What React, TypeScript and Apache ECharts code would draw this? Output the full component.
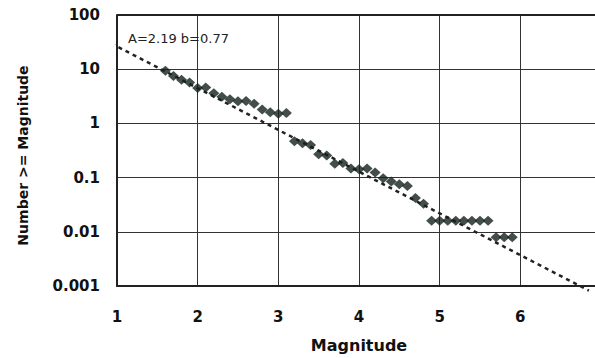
import React, { useEffect, useRef } from "react";
import * as echarts from "echarts";

const magnitudes = [
  1.6, 1.7, 1.8, 1.9, 2.0, 2.1, 2.2, 2.3, 2.4, 2.5, 2.6, 2.7, 2.8, 2.9, 3.0, 3.1,
  3.2, 3.3, 3.4, 3.5, 3.6, 3.7, 3.8, 3.9, 4.0, 4.1, 4.2, 4.3, 4.4, 4.5, 4.6, 4.7, 4.8,
  4.9, 5.0, 5.1, 5.2, 5.3, 5.4, 5.5, 5.6, 5.7, 5.8, 5.9,
];
const cumulativeNumbers = [
  9.4, 7.5, 6.4, 5.7, 4.5, 4.6, 3.6, 3.1, 2.8, 2.55, 2.6, 2.3, 1.8, 1.6, 1.5, 1.55,
  0.47, 0.43, 0.4, 0.27, 0.255, 0.18, 0.185, 0.147, 0.143, 0.147, 0.124, 0.097, 0.085, 0.075, 0.07, 0.042, 0.033,
  0.016, 0.016, 0.016, 0.016, 0.016, 0.016, 0.016, 0.016, 0.0079, 0.0079, 0.0079,
];
const fitA = 2.19;
const fitB = 0.77;
const fitRange = [0.93, 6.85];
const xTickLabels: Record<string, string> = { "1": "1", "2": "2", "3": "3", "4": "4", "5": "5", "6": "6", "7": "" };
const yTickLabels: Record<string, string> = {
  "100": "100",
  "10": "10",
  "1": "1",
  "0.1": "0.1",
  "0.01": "0.01",
  "0.001": "0.001",
};
const annotation = "A=2.19 b=0.77";

export default function App() {
  const ref = useRef<HTMLDivElement>(null);
  useEffect(() => {
    if (!ref.current) return;
    const chart = echarts.init(ref.current, null, { renderer: "svg" });
    const fitData = fitRange.map((m) => [m, Math.pow(10, fitA - fitB * m)]);
    const scatterData = magnitudes.map((m, i) => [m, cumulativeNumbers[i]]);
    chart.setOption({
      animation: false,
      backgroundColor: "#ffffff",
      grid: { left: 117, top: 15, width: 484, height: 277, containLabel: false },
      xAxis: {
        type: "value",
        min: 1,
        max: 7,
        interval: 1,
        name: "Magnitude",
        nameLocation: "middle",
        nameGap: 51,
        nameTextStyle: {
          fontFamily: "DejaVu Sans",
          fontWeight: "bold",
          fontSize: 16,
          color: "#111",
        },
        axisLine: { show: true, onZero: false, lineStyle: { color: "#222", width: 2 } },
        axisTick: { show: false },
        axisLabel: {
          fontFamily: "DejaVu Sans",
          fontWeight: "bold",
          fontSize: 15,
          color: "#111",
          margin: 23,
          formatter: (v: number) => xTickLabels[String(v)] ?? String(v),
        },
        splitLine: { show: true, lineStyle: { color: "#333", width: 1 } },
      },
      yAxis: {
        type: "log",
        logBase: 10,
        min: 0.001,
        max: 100,
        name: "Number >= Magnitude",
        nameLocation: "middle",
        nameGap: 87,
        nameTextStyle: {
          fontFamily: "DejaVu Sans",
          fontWeight: "bold",
          fontSize: 14,
          color: "#111",
          padding: [0, 10, 0, 0],
        },
        axisLine: { show: true, lineStyle: { color: "#222", width: 2 } },
        axisTick: { show: false },
        axisLabel: {
          fontFamily: "DejaVu Sans",
          fontWeight: "bold",
          fontSize: 15,
          color: "#111",
          margin: 17,
          formatter: (v: number) => {
            const key = String(Number(v.toPrecision(3)));
            return yTickLabels[key] ?? key;
          },
        },
        splitLine: { show: true, lineStyle: { color: "#333", width: 1 } },
      },
      graphic: [
        {
          type: "line",
          shape: { x1: 117, y1: 15, x2: 620, y2: 15 },
          style: { stroke: "#222", lineWidth: 2 },
          z: 10,
        },
        {
          type: "text",
          left: 128,
          top: 32,
          style: {
            text: annotation,
            font: "13px DejaVu Sans",
            fill: "#222",
          },
          z: 10,
        },
      ],
      series: [
        {
          type: "line",
          data: fitData,
          showSymbol: false,
          clip: false,
          lineStyle: { color: "#222", width: 2.5, type: [4, 4] },
          z: 2,
        },
        {
          type: "scatter",
          data: scatterData,
          symbol: "diamond",
          symbolSize: [11, 10],
          itemStyle: { color: "#14201b" },
          z: 3,
        },
      ],
    });
    return () => chart.dispose();
  }, []);
  return (
    <div
      style={{
        position: "fixed",
        left: 0,
        top: 0,
        width: 595,
        height: 358,
        overflow: "hidden",
        background: "#fff",
      }}
    >
      <div ref={ref} style={{ width: 620, height: 358 }} />
    </div>
  );
}
